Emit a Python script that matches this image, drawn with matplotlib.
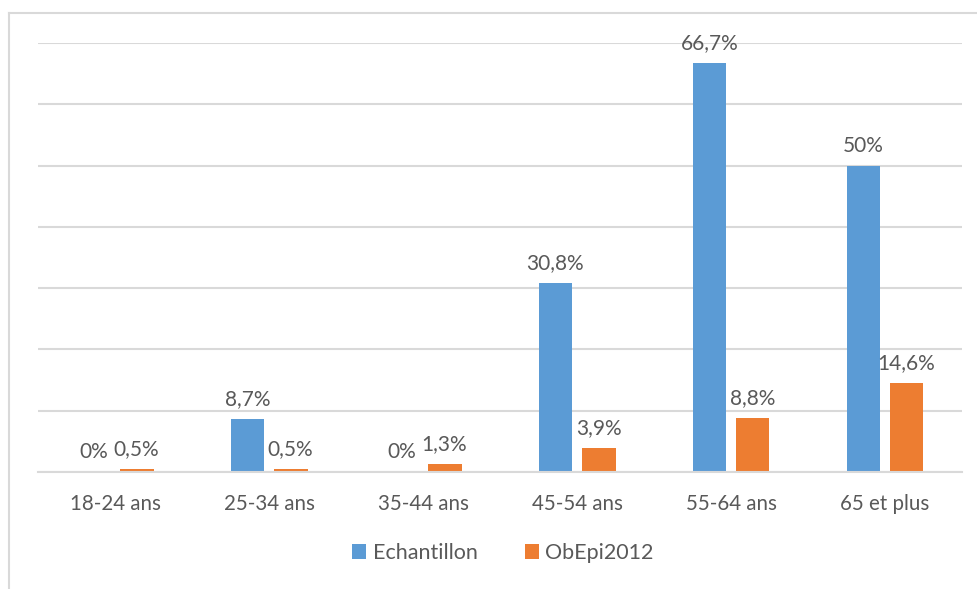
import numpy as np
import matplotlib.pyplot as plt
from matplotlib.lines import Line2D

# Data
categories = ['18-24 ans', '25-34 ans', '35-44 ans', '45-54 ans', '55-64 ans', '65 et plus']
echantillon = [0, 8.7, 0, 30.8, 66.7, 50]
obepi2012 = [0.5, 0.5, 1.3, 3.9, 8.8, 14.6]
series_names = ['Echantillon', 'ObEpi2012']

BLUE = '#5B9BD5'
ORANGE = '#ED7D31'
GREY = '#595959'
GRID = '#D9D9D9'

plt.rcParams['font.family'] = ['Lato', 'DejaVu Sans']

W, H = 977, 589
fig = plt.figure(figsize=(W / 100, H / 100), dpi=100)
ax = fig.add_axes([38 / W, (H - 472) / H, (962 - 38) / W, (472 - 43) / H])

x = np.arange(len(categories))
width = 0.22
offset = 0.14

b1 = ax.bar(x - offset, echantillon, width, color=BLUE, label=series_names[0])
b2 = ax.bar(x + offset, obepi2012, width, color=ORANGE, label=series_names[1])


def fmt(v):
    s = ('%g' % v).replace('.', ',')
    return s + '%'


for bars, vals in ((b1, echantillon), (b2, obepi2012)):
    for rect, v in zip(bars, vals):
        ax.annotate(fmt(v), (rect.get_x() + rect.get_width() / 2, v),
                    xytext=(0, 7), textcoords='offset points',
                    ha='center', va='bottom', fontsize=15, color=GREY)

ax.set_xlim(-0.5, len(categories) - 0.5)
ax.set_ylim(0, 70)
ax.set_yticks(np.arange(0, 71, 10))
ax.yaxis.grid(True, color=GRID, linewidth=1.5)
ax.set_axisbelow(True)
ax.tick_params(axis='y', left=False, labelleft=False)
ax.tick_params(axis='x', bottom=False, labelsize=14.8, labelcolor=GREY, pad=12)
ax.set_xticks(x)
ax.set_xticklabels(categories)
for side in ['top', 'right', 'left']:
    ax.spines[side].set_visible(False)
ax.spines['bottom'].set_color(GRID)
ax.spines['bottom'].set_linewidth(1.5)

leg = fig.legend(loc='center', bbox_to_anchor=(503 / W, (H - 553) / H), ncol=2,
                 frameon=False, fontsize=15.5, handlelength=0.65, handleheight=0.65,
                 handletextpad=0.3, columnspacing=2.2)
for t in leg.get_texts():
    t.set_color(GREY)

# chart frame (left and top edges visible)
fig.add_artist(Line2D([8.5 / W, 8.5 / W], [0, (H - 13) / H], color=GRID, linewidth=1.5,
                      transform=fig.transFigure))
fig.add_artist(Line2D([8.5 / W, 1], [(H - 13) / H, (H - 13) / H], color=GRID, linewidth=1.5,
                      transform=fig.transFigure))

fig.savefig('out.png', dpi=100)
